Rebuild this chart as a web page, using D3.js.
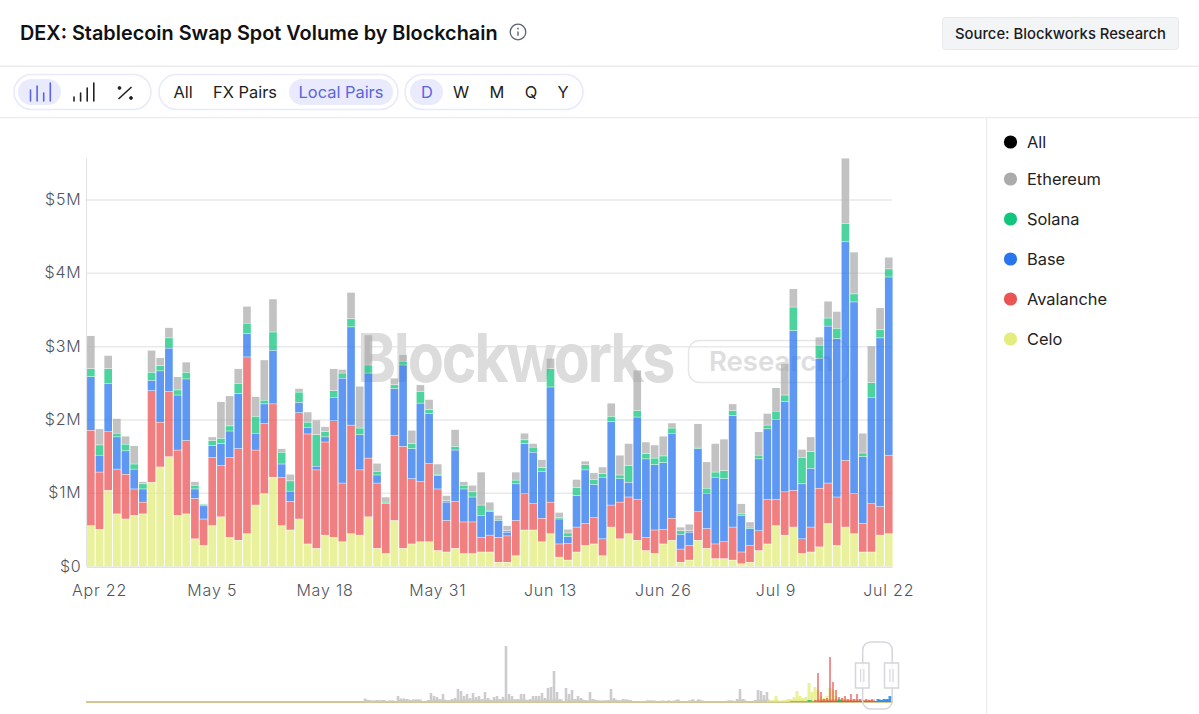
<!DOCTYPE html>
<html><head><meta charset="utf-8">
<script src="https://cdn.jsdelivr.net/npm/d3@7"></script>
<style>html,body{margin:0;padding:0;background:#fff;overflow:hidden}svg{display:block;font-family:Inter,sans-serif}</style>
</head><body><svg id="c" width="1199" height="714"></svg>
<script>
const startDate = "2024-04-21";
const tickEvery = 13;
const yTicks = [0,1,2,3,4,5];
const legendNames = ["All","Ethereum","Solana","Base","Avalanche","Celo"];
const legendColors = ["#000000","#ababab","#12c57d","#2a75ee","#ea5455","#e3ec7c"];
const pairLabels = ["All","FX Pairs","Local Pairs"];
const freqLabels = ["D","W","M","Q","Y"];
const celo = [.56,.51,1.04,.72,.65,.70,.72,1.15,1.36,1.50,.70,.72,.38,.29,.56,.68,.40,.36,.45,.84,1.00,1.22,.56,.50,.65,.31,.25,.43,.40,.34,.45,.43,.68,.25,.18,.63,.25,.31,.34,.34,.22,.20,.25,.18,.18,.20,.20,.06,.06,.15,.50,.50,.34,.45,.13,.09,.20,.29,.31,.15,.54,.38,.45,.36,.22,.18,.31,.36,.06,.09,.36,.25,.11,.11,.09,.04,.06,.22,.31,.56,.43,.54,.18,.20,.27,.59,.29,.54,.45,.20,.20,.43,.45];
const avalanche = [1.30,.78,.80,.61,.61,.36,.16,1.25,.61,.89,.89,1.00,.55,.36,.93,.70,1.09,1.25,2.41,.75,.95,1.00,.66,.39,1.45,1.50,1.07,1.27,1.59,.80,1.48,.89,.80,.89,.68,1.16,1.39,.89,.82,1.07,.84,.43,.64,.43,.43,.20,.23,.34,.36,.48,.50,.36,.32,.43,.18,.23,.34,.30,.36,.23,.30,.50,.50,.56,.18,.32,.20,.30,.18,.20,.39,.27,.20,.23,.45,.16,.23,.27,.61,.36,.59,.50,.20,.34,.80,.55,.66,.91,.55,.39,.66,.39,1.07];
const base = [.73,.23,.66,.44,.32,.27,.18,.14,.70,.59,.75,.84,.13,.18,.16,.30,.36,.75,.32,.23,.27,.73,.18,.14,.14,.09,.05,.07,.32,1.43,1.34,.48,1.16,.11,0,.64,1.11,.41,1.07,.68,.18,.25,.70,.45,.34,.30,.32,.23,.05,.50,.68,.70,.64,1.57,.34,.09,.43,.73,.45,.84,1.14,.32,.20,1.12,1.07,.89,.91,1.16,.20,.18,.86,.48,.91,.86,1.52,.50,.23,.98,.96,1.09,1.23,2.18,.75,.80,1.77,2.14,2.16,2.98,2.61,.91,1.45,2.30,2.43];
const solana = [.11,.14,.20,.05,.09,.07,.07,.11,.07,.14,.07,.09,.05,.02,.07,.07,.07,.14,.14,.23,.05,.25,.16,.14,.14,.07,.43,.07,.09,.07,.11,.09,.11,.05,.02,.05,.05,.07,.16,.05,.02,.02,.05,.05,.07,.14,.02,.02,.02,.05,.05,.07,.05,.25,.02,.05,.11,.07,.07,.05,.07,.05,.23,.09,.07,.09,.09,.07,.05,.02,.02,.07,.07,.11,.07,.02,.02,.05,.05,.11,.09,.32,.36,.23,.18,.11,.14,.25,.11,.05,.20,.11,.11];
const ethereum = [.45,.22,.18,.20,.11,.25,.03,.30,.11,.14,.18,.14,.05,.01,.05,.50,.41,.20,.23,.27,.55,.45,.05,.09,.05,.14,.20,.07,.30,.05,.36,.57,.41,.11,.07,.09,.09,.18,.09,.14,.14,.07,.23,.05,.09,.45,.11,.05,.07,.11,.09,.05,.11,.14,.07,.05,.11,.05,.09,.09,.18,.27,.30,.55,.16,.18,.27,.07,.05,.09,.32,.36,.39,.43,.09,.14,.07,.32,.16,.32,.43,.25,.11,.20,.11,.23,.23,.89,.57,.27,.50,.30,.16];
// overview strip: one reading per sampling step, with the step at which each series begins
const miniSteps = 269, miniMax = 56;
const miniEthereumStart = 92;
const miniEthereum = [0,3.5,2,1.5,1.5,2,1.5,2,.5,1.5,1.5,0,6,3.5,3.5,3,2,2.5,2.5,2.5,.5,.5,2,9,6,5,3,8,2,2,3,4,13,11,6,8,4,9,5,6,3,10,4,2,5,6,3,5,56,8,6,3,3,8,8,2,3,6,6,6,9,4,14,15,31,10,3,1,14,8,12,3,6,4,2,1.5,10,3,2,1.5,1.5,1.5,2,13,4,2,1.5,3,2.5,2,.5,0,0,1,0,1.5,1.5,1.5,1,0,1.5,.5,1.5,1,1.5,2.5,.5,0,1,1.5,2.5,.5,2.5,1.5,1,1,0,0,1,1,1,1,1.5,1.5,1,3,13,3,.5,0,.5,2,12,11,7,10,0];
const miniCeloStart = 227;
const miniCelo = [1,1.5,2,6,1,1.5,1.5,3,3,5,11,6,4,5,19,10,15,12,6,4,6,14,12,6,3,4,3,2,2,3,1.5,1,2,1,1.5,1,1,1,1,1,1,1];
const miniAvalancheStart = 243;
const miniAvalanche = [2,29,10,3,4,45,20,12,5,4,6,3,8,3,8,3,2,3,2,3,1,1,1,1,1,2];
const miniBaseStart = 245;
const miniBase = [1,1,1,1,1,1,1,1,1,1,1,1,1,1,1,1,1,1,1,3,2,3,3,6];
const miniSolanaStart = 235;
const miniSolana = [.5,.5,.5,.5,.5,.5,2,.5,.5,.5,.5,.5,.5,.5,.5,.5,2,.5,.5,.5,1,.5,.5,.5];
const miniOtherStart = 227;
const miniOther = [.8,.8,.8,.8,.8,.8,.8,.8,.8,.8,.8,.8,.8,.8,.8,.8,.8,.8];
const miniBaseline = [0,0];

const svg = d3.select("#c");
const parse = d3.timeParse("%Y-%m-%d");
const days = d3.range(celo.length).map(i => d3.timeDay.offset(parse(startDate), i));
const rows = days.map((d,i) => ({d, celo:celo[i], avalanche:avalanche[i], base:base[i], solana:solana[i], ethereum:ethereum[i]}));
const keys = ["celo","avalanche","base","solana","ethereum"];
const colors = {celo:"#e3ec7c",avalanche:"#ea5455",base:"#2a75ee",solana:"#12c57d",ethereum:"#ababab"};
const stacked = d3.stack().keys(keys)(rows);

const x = d3.scaleBand(days,[87,892.6]).paddingInner(.115).paddingOuter(0);
const y = d3.scaleLinear([0,5],[566.7,200]);
const peak = d3.max(stacked[4], s => s[1]);

// header chrome
const rule = "#ececee";
svg.append("rect").attr("x",0).attr("y",65.5).attr("width",1199).attr("height",1.5).attr("fill",rule);
svg.append("rect").attr("x",0).attr("y",116.8).attr("width",1199).attr("height",1.5).attr("fill",rule);
svg.append("rect").attr("x",986).attr("y",118).attr("width",1.2).attr("height",596).attr("fill",rule);
svg.append("text").attr("x",20).attr("y",39.5).attr("font-size",19.85).attr("font-weight",600).attr("fill","#111").text("DEX: Stablecoin Swap Spot Volume by Blockchain");
const info = svg.append("g").attr("transform","translate(518,32)");
info.append("circle").attr("r",7.8).attr("fill","none").attr("stroke","#5b6472").attr("stroke-width",1.3);
info.append("line").attr("y1",-.6).attr("y2",3.8).attr("stroke","#5b6472").attr("stroke-width",1.4);
info.append("circle").attr("cy",-3.4).attr("r",.9).attr("fill","#5b6472");
svg.append("rect").attr("x",942.5).attr("y",17.5).attr("width",236).attr("height",32).attr("rx",3).attr("fill","#f3f4f6").attr("stroke","#e7e8eb");
svg.append("text").attr("x",955).attr("y",38.5).attr("font-size",14.8).attr("font-weight",500).attr("fill","#1b1b1f").text("Source: Blockworks Research");

// toolbar
const pill = (a,b) => svg.append("rect").attr("x",a).attr("y",74.5).attr("width",b-a).attr("height",35).attr("rx",17.5).attr("fill","#fff").attr("stroke","#e8e9fb").attr("stroke-width",1.5);
const active = (a,b) => svg.append("rect").attr("x",a).attr("y",79).attr("width",b-a).attr("height",26).attr("rx",13).attr("fill","#e9ebfd");
pill(14,151); pill(159,398); pill(405,583);
active(18,61); active(289,393); active(410,443);
const label = (t,cx,on) => svg.append("text").attr("x",cx).attr("y",98).attr("text-anchor","middle").attr("font-size",16.4).attr("font-weight",400).attr("fill",on?"#5a63e0":"#1d1d20").text(t);
[[183,0],[245,0],[341,1]].forEach(([cx,on],i)=>label(pairLabels[i],cx,on));
[[427,1],[461,0],[497,0],[531,0],[563,0]].forEach(([cx,on],i)=>label(freqLabels[i],cx,on));
const ico = (x0,hs,c) => hs.forEach((h,i)=>svg.append("line").attr("x1",x0+i*6.6).attr("x2",x0+i*6.6).attr("y1",101).attr("y2",101-h).attr("stroke",c).attr("stroke-width",1.6).attr("stroke-linecap","round"));
ico(30.5,[11,15,8,18],"#5a63e0");
ico(74,[4,8,13,18],"#222");
const pct = svg.append("g").attr("stroke","#222").attr("fill","#222");
pct.append("line").attr("x1",118.5).attr("y1",99).attr("x2",131.5).attr("y2",87).attr("stroke-width",1.6);
pct.append("circle").attr("cx",119.5).attr("cy",88).attr("r",1.4);
pct.append("circle").attr("cx",131).attr("cy",98).attr("r",1.4);

// gridlines and watermark sit under the bars
svg.append("g").selectAll("line").data(yTicks.slice(1)).join("line")
  .attr("x1",87).attr("x2",892).attr("y1",d=>y(d)).attr("y2",d=>y(d)).attr("stroke","#e9e9ec").attr("stroke-width",1.5);
svg.append("text").attr("transform","translate(357,382) scale(.87,1)").attr("font-size",68).attr("font-weight",700).attr("letter-spacing",-2.6).attr("fill","#dcdcdc").text("Blockworks");
svg.append("rect").attr("x",688.5).attr("y",340.5).attr("width",159.5).attr("height",42).attr("rx",11).attr("fill","none").attr("stroke","#e6e6e6").attr("stroke-width",1.4);
svg.append("text").attr("x",709).attr("y",371).attr("font-size",27.5).attr("font-weight",600).attr("fill","#dedede").text("Research");

// bars
svg.append("g").selectAll("g").data(stacked).join("g").attr("fill",d=>colors[d.key]).attr("fill-opacity",d=>d.key==="ethereum"?.72:.75)
  .selectAll("rect").data(d=>d).join("rect")
  .attr("x",d=>x(d.data.d)).attr("width",x.bandwidth())
  .attr("y",d=>y(d[1])+.25).attr("height",d=>Math.max(0,y(d[0])-y(d[1])-.5));

// axes
svg.append("line").attr("x1",86.5).attr("x2",86.5).attr("y1",y(peak)).attr("y2",y(0)).attr("stroke","#e4e4e7").attr("stroke-width",1.2);
svg.append("line").attr("x1",87).attr("x2",892.6).attr("y1",y(0)+.5).attr("y2",y(0)+.5).attr("stroke","#e2e2e5").attr("stroke-width",1.4);
const yAxis = d3.axisLeft(y).tickValues(yTicks).tickFormat(d=>d===0?"$0":"$"+d+"M").tickSize(0).tickPadding(5.5);
const yG = svg.append("g").attr("transform","translate(87,-.7)").call(yAxis);
const xAxis = d3.axisBottom(x).tickValues(days.filter((d,i)=>i%tickEvery===1)).tickFormat(d3.timeFormat("%b %-d")).tickSize(0).tickPadding(17.5);
const xG = svg.append("g").attr("transform","translate(0,"+y(0)+")").call(xAxis);
[yG,xG].forEach(g=>{g.select(".domain").remove();g.selectAll("text").attr("font-family","Inter,sans-serif").attr("font-size",16).attr("font-weight",300).attr("letter-spacing",.8).attr("fill","#4f5560");});

// legend
const lg = svg.append("g").selectAll("g").data(legendNames).join("g")
  .attr("transform",(d,i)=>"translate(0,"+[142,179,219,259,299,339][i]+")");
lg.append("circle").attr("cx",1010.5).attr("r",6.6).attr("fill",(d,i)=>legendColors[i]);
lg.append("text").attr("x",1027).attr("y",6).attr("font-size",16.4).attr("fill","#222").text(d=>d);

// overview strip
const mx = d3.scaleLinear([0,miniSteps],[86,893]);
const my = d3.scaleLinear([0,miniMax],[702,646]);
const fuzz = v => Math.min(v,2.5);
const drawMini = (arr,s,c,op,w) => {
  svg.append("path").datum(arr).attr("d",d3.area().x((v,i)=>mx(s+i)).y0(my(0)).y1(v=>my(fuzz(v))).curve(d3.curveStepAfter)).attr("fill",c).attr("fill-opacity",op*.8);
  svg.append("g").attr("fill",c).attr("fill-opacity",op).selectAll("rect").data(arr).join("rect")
    .attr("x",(v,i)=>mx(s+i)-w/2).attr("width",w).attr("y",v=>my(v)).attr("height",v=>my(0)-my(v));
};
svg.append("path").datum(miniBaseline).attr("d",d3.line().x((v,i)=>mx(i*miniSteps)).y(v=>my(v))).attr("stroke","#c6b36e").attr("stroke-width",1.6).attr("fill","none");
drawMini(miniEthereum,miniEthereumStart,"#c9c9c9",.95,2.6);
drawMini(miniOther,miniOtherStart,"#8e4a9e",.85,3);
drawMini(miniCelo,miniCeloStart,"#e3ec7c",.8,3);
drawMini(miniAvalanche,miniAvalancheStart,"#ea5455",.65,2);
drawMini(miniSolana,miniSolanaStart,"#12c57d",.8,3);
drawMini(miniBase,miniBaseStart,"#2a8fee",.9,3);
svg.append("rect").attr("x",862.7).attr("y",642).attr("width",29.5).attr("height",67).attr("rx",8).attr("fill","none").attr("stroke","#d4d6db").attr("stroke-width",1.5);
[[855.5,869],[884.5,898.5]].forEach(([a,b])=>{
  svg.append("rect").attr("x",a).attr("y",663).attr("width",b-a).attr("height",25).attr("fill","#fff").attr("fill-opacity",.8).attr("stroke","#d4d6db").attr("stroke-width",1.5);
  const m=(a+b)/2;
  [m-1.6,m+1.6].forEach(q=>svg.append("line").attr("x1",q).attr("x2",q).attr("y1",669).attr("y2",682).attr("stroke","#d4d6db").attr("stroke-width",1.1));
});
</script></body></html>
